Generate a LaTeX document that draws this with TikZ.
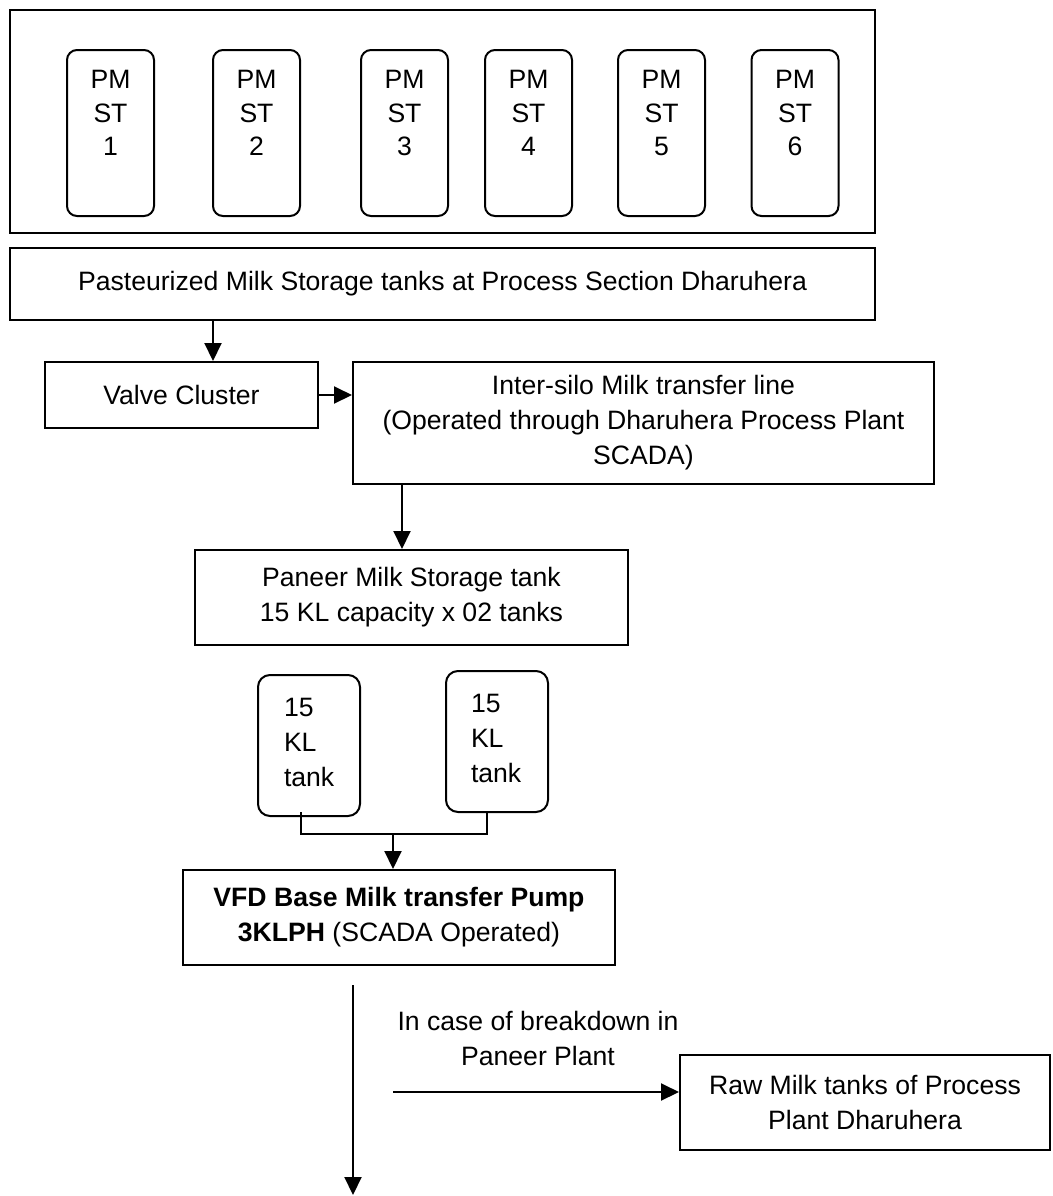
\documentclass[tikz,border=0pt]{standalone}
\usepackage{fontspec}
\setmainfont{Liberation Sans}
\usetikzlibrary{arrows.meta}

\begin{document}
\begin{tikzpicture}[x=0.5pt,y=-0.5pt,line width=1pt,
    every node/.style={font=\fontsize{13.3}{17.5}\selectfont,inner sep=0pt},
    box/.style={draw,align=center},
    tankbox/.style={draw,rounded corners=5pt},
    flow/.style={-{Triangle[length=9pt,width=8.5pt]}}]
  \useasboundingbox (0,0) rectangle (1053,1196);

  % storage tanks at process section
  \node[box,minimum width=432.5pt,minimum height=111.5pt] (frame) at (442.5,121.5) {};
  \foreach \n/\x in {1/110.5,2/256.5,3/404.5,4/528.5,5/661.5,6/795}{
    \node[tankbox,minimum width=43.5pt,minimum height=83pt] (pm\n) at (\x,133) {};
    \node[anchor=north,align=center,font=\fontsize{13.3}{16.75}\selectfont] (pm\n txt) at (\x,69.5) {PM\\ST\\\n};
  }
  \node[box,minimum width=432.5pt,minimum height=36pt] (pasteur) at (442.5,284)
    {Pasteurized Milk Storage tanks at Process Section Dharuhera};

  \node[box,minimum width=136.5pt,minimum height=33pt] (valve) at (181.5,395) {Valve Cluster};
  \node[box,minimum width=290.5pt,minimum height=61pt] (inter) at (643.5,423)
    {Inter-silo Milk transfer line\\(Operated through Dharuhera Process Plant\\SCADA)};
  \node[box,minimum width=216.5pt,minimum height=47.5pt] (paneer) at (411.5,597.5)
    {Paneer Milk Storage tank\\15 KL capacity x 02 tanks};

  % 15 KL tanks
  \node[tankbox,rounded corners=6pt,minimum width=51pt,minimum height=70.5pt] (tankA) at (309,745.5) {};
  \node[tankbox,rounded corners=6pt,minimum width=51pt,minimum height=70.5pt] (tankB) at (497,741.5) {};
  \node[anchor=north west,align=left] (tankAtxt) at (283,697.5) {15\\KL\\tank};
  \node[anchor=north west,align=left] (tankBtxt) at (470,693.5) {15\\KL\\tank};

  \node[box,minimum width=216pt,minimum height=47.5pt] (pump) at (399,917.5)
    {\textbf{VFD Base Milk transfer Pump}\\\textbf{3KLPH} (SCADA Operated)};
  \node[align=center] (note) at (538,1038) {In case of breakdown in\\Paneer Plant};
  \node[box,minimum width=185pt,minimum height=47.5pt] (raw) at (865,1102.5)
    {Raw Milk tanks of Process\\Plant Dharuhera};

  \coordinate (pdrop) at (213,0);
  \coordinate (idrop) at (402,0);
  \coordinate (ta) at (301,0);
  \coordinate (tb) at (487,0);
  \coordinate (tj) at (393,834);
  \coordinate (outA) at (353,985);
  \coordinate (outB) at (353,1195);
  \coordinate (brk) at (393,1092);

  \draw[flow] (pasteur.south -| pdrop) -- (pdrop |- valve.north);
  \draw[flow] (valve.east) -- (valve.east -| inter.west);
  \draw[flow] (inter.south -| idrop) -- (idrop |- paneer.north);
  \draw (ta |- tankA.south) ++(0,-5) -- (ta |- tj) -- (tb |- tj) -- (tb |- tankB.south);
  \draw[flow] (tj) -- (tj |- pump.north);
  \draw[flow] (outA) -- (outB);
  \draw[flow] (brk) -- (brk -| raw.west);
\end{tikzpicture}
\end{document}
